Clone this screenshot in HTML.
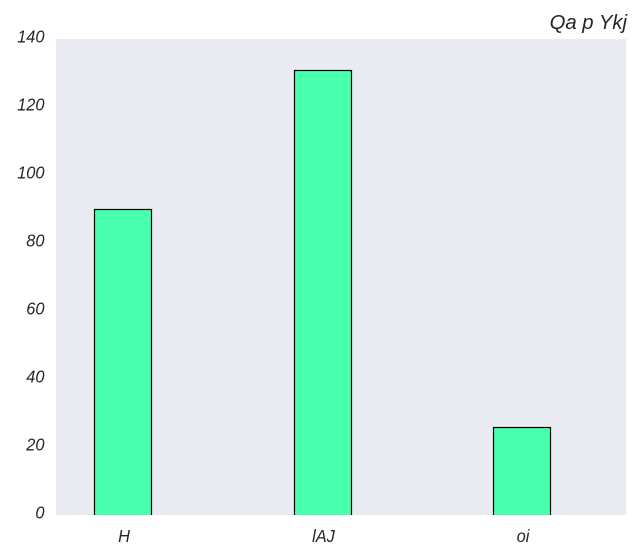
<!DOCTYPE html>
<html>
<head>
<meta charset="utf-8">
<style>
html,body{margin:0;padding:0;background:#fff;width:640px;height:560px;overflow:hidden}
svg{display:block}
text{font-family:"Liberation Sans",sans-serif;font-style:italic;fill:#262626}
</style>
</head>
<body>
<svg id="chart" width="640" height="560" viewBox="0 0 640 560" xmlns="http://www.w3.org/2000/svg">
<defs><clipPath id="plot-clip"><rect x="56" y="39" width="570" height="476"/></clipPath></defs>
<rect x="56" y="39" width="570" height="476" fill="#eaeaf2"/>
<g id="bars" clip-path="url(#plot-clip)"></g>
<g id="y-ticks"></g>
<g id="x-ticks"></g>
<text x="627" y="29" text-anchor="end" font-size="20.3">Qa p Ykj</text>
</svg>
<script>
const categories = ['H', 'lAJ', 'oi'];
const values = [89.9, 130.7, 25.7];
const yTickValues = [0, 20, 40, 60, 80, 100, 120, 140];

const NS = 'http://www.w3.org/2000/svg';
const plotBottom = 515, plotHeight = 476, yMax = 140;
const firstCenter = 123.2, step = 199.5, barWidth = 57;
function yScale(v) { return plotBottom - (v / yMax) * plotHeight; }
function xScale(i) { return firstCenter + i * step; }
function snap(p) { return Math.floor(p) + 0.5; }

const barsGroup = document.getElementById('bars');
const xGroup = document.getElementById('x-ticks');
const yGroup = document.getElementById('y-ticks');
const labelScale = 0.91;

categories.forEach(function (cat, i) {
  const r = document.createElementNS(NS, 'rect');
  
  
  const top = snap(yScale(values[i]));
  r.setAttribute('x', snap(xScale(i) - barWidth / 2));
  r.setAttribute('y', top);
  r.setAttribute('width', barWidth);
  r.setAttribute('height', plotBottom + 5 - top);
  r.setAttribute('fill', '#48ffae');
  r.setAttribute('stroke', '#000');
  r.setAttribute('stroke-width', '1.2');
  barsGroup.appendChild(r);

  const t = document.createElementNS(NS, 'text');
  
  
  t.setAttribute('transform', 'translate(' + (xScale(i) + 0.8) + ' 542) scale(' + labelScale + ' 1)');
  t.setAttribute('text-anchor', 'middle');
  t.setAttribute('font-size', '18');
  t.textContent = cat;
  xGroup.appendChild(t);
});

yTickValues.forEach(function (v) {
  const t = document.createElementNS(NS, 'text');
  
  
  t.setAttribute('transform', 'translate(44.5 ' + (yScale(v) + 3.6) + ') scale(' + labelScale + ' 1)');
  t.setAttribute('text-anchor', 'end');
  t.setAttribute('font-size', '18');
  t.textContent = v;
  yGroup.appendChild(t);
});
</script>
</body>
</html>
